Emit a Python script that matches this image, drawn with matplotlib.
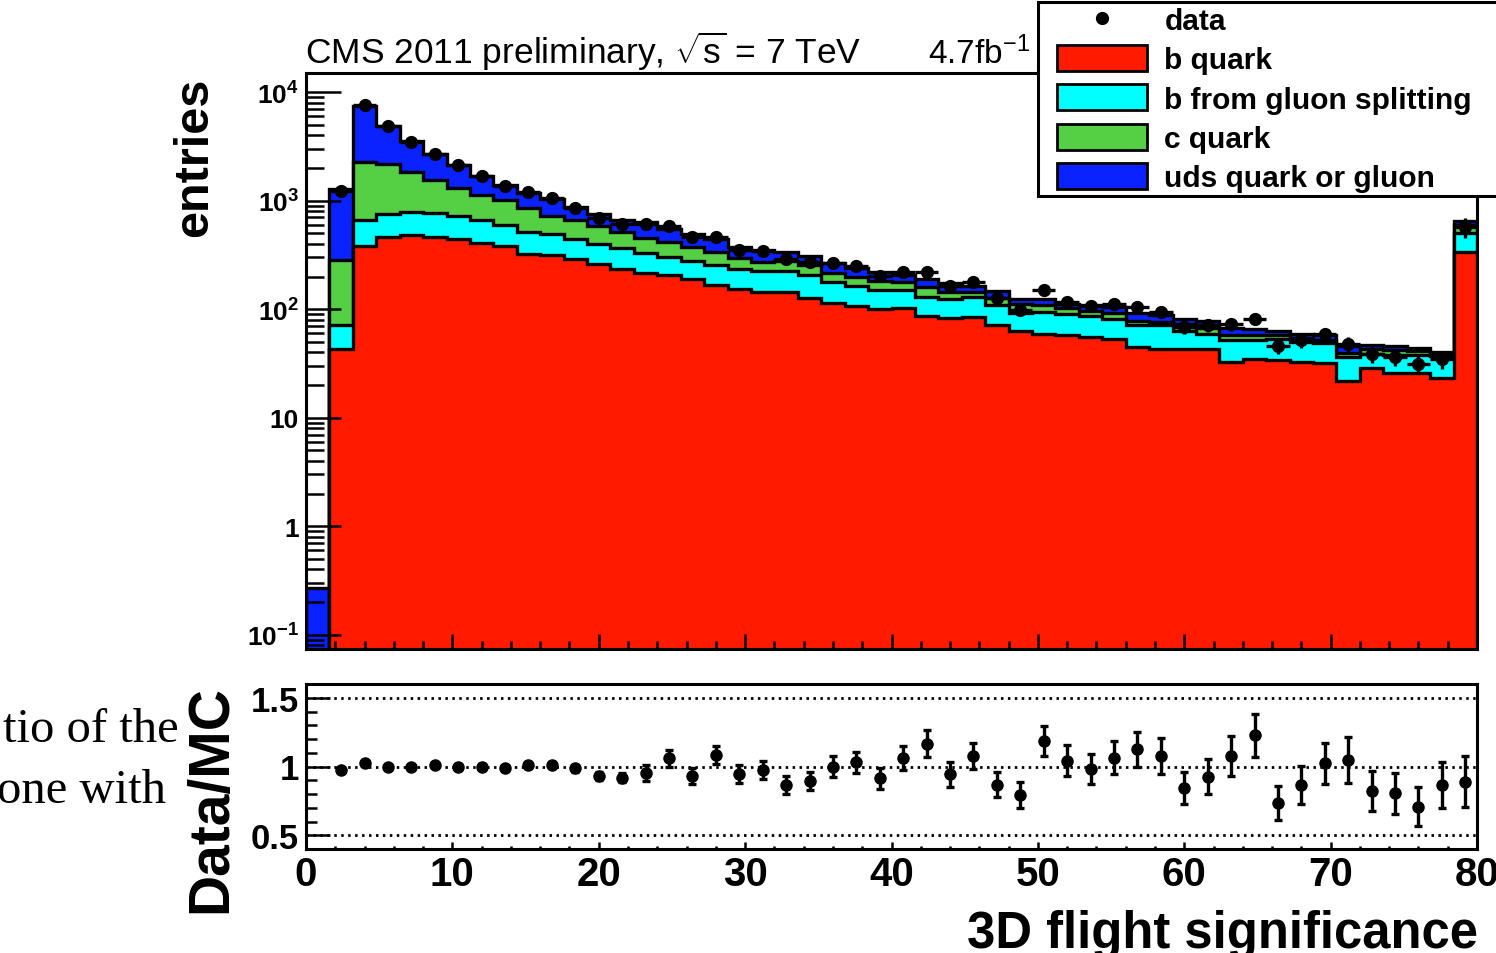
import numpy as np
import matplotlib.pyplot as plt
from matplotlib.ticker import FixedLocator, FixedFormatter, MultipleLocator, LogLocator, NullFormatter
from matplotlib.lines import Line2D
from matplotlib.patches import Patch, Rectangle

plt.rcParams['font.family'] = ['Liberation Sans', 'DejaVu Sans']
plt.rcParams['mathtext.fontset'] = 'custom'
plt.rcParams['mathtext.rm'] = 'Liberation Sans'
plt.rcParams['mathtext.bf'] = 'Liberation Sans:bold'
plt.rcParams['mathtext.it'] = 'Liberation Sans:italic'

# 50 bins of 1.6 between 0 and 80 (last bin holds the overflow)
edges = np.linspace(0, 80, 51)
centers = 0.5 * (edges[:-1] + edges[1:])

# MC components (entries per bin)
b_quark = [0, 43, 380, 462, 479, 462, 440, 410, 382, 325,
           318, 292, 259, 236, 215, 205, 191, 166, 155, 144,
           143, 127, 113, 106, 100, 102, 87, 83, 84, 71.5,
           63, 59.6, 57.5, 55.5, 53.6, 44.9, 43.4, 43.4, 43.4, 32.7,
           34.4, 33.8, 32.4, 31.6, 21.7, 29, 25.9, 25.9, 23, 336]
b_gluon = [0, 28, 279, 297, 306, 314, 281, 249, 211, 189,
           172, 151, 137, 133, 114, 98, 87, 88, 81, 79,
           83, 80, 66.5, 56.5, 51.5, 49.5, 41.8, 41.2, 44.8, 37.9,
           29.3, 34.6, 32.2, 30.5, 28.3, 26.2, 27.7, 19.6, 16.2, 19.8,
           18.1, 19.8, 17.5, 17.3, 14.6, 10, 11.7, 11.7, 13.8, 168]
c_quark = [0, 211, 1608, 1431, 1049, 784, 597, 461, 413, 341,
           226, 216, 184, 145, 124, 113, 96, 83, 63, 49,
           54, 48, 35.5, 34.5, 28.5, 25.5, 30.2, 20.8, 14.2, 16.6,
           20.4, 14.4, 12.2, 10.2, 9.7, 6.7, 5.8, 10.7, 7.1, 5,
           5, 3.9, 4.1, 3.6, 3.2, 4.4, 4.9, 3.3, 2.2, 88]
uds = [0.27, 988, 5163, 2670, 1681, 1110, 795, 566, 377, 330,
       326, 214, 168, 154, 187, 129, 121, 103, 75, 77,
       56, 52, 51, 44.5, 42, 28, 29, 29, 22, 21,
       12.6, 16.7, 10.8, 12.4, 13.2, 14.5, 11, 8.2, 10.7, 10.2,
       8.8, 5.5, 5.6, 5, 6, 3.8, 3, 3.4, 1.4, 57]

data = [np.nan, 1240, 7600, 4860, 3490, 2700, 2113, 1683, 1364, 1197,
        1055, 860, 697, 615, 610, 578, 462, 467, 353, 341,
        291, 275, 266, 249, 203, 218, 219, 164, 178, 127,
        99, 149, 117, 106.5, 111.6, 104, 94.7, 69, 71.6, 72.9,
        81.4, 46.2, 51.6, 58.8, 47.6, 38.9, 36.6, 31.4, 34.9, 577]

ratio = [np.nan, 0.976, 1.024, 1.0, 0.993, 1.01, 1.0, 0.998, 0.986, 1.01,
         1.012, 0.986, 0.932, 0.92, 0.952, 1.06, 0.932, 1.082, 0.944, 0.976,
         0.867, 0.896, 1.0, 1.03, 0.913, 1.065, 1.167, 0.944, 1.077, 0.867,
         0.792, 1.186, 1.041, 0.981, 1.065, 1.126, 1.077, 0.843, 0.925, 1.077,
         1.227, 0.734, 0.865, 1.022, 1.046, 0.824, 0.804, 0.708, 0.865, 0.889]
ratio_err = [np.nan, 0.012, 0.008, 0.01, 0.012, 0.014, 0.016, 0.018, 0.02, 0.022,
             0.024, 0.026, 0.03, 0.032, 0.058, 0.062, 0.06, 0.066, 0.064, 0.064,
             0.066, 0.066, 0.074, 0.078, 0.076, 0.087, 0.097, 0.09, 0.094, 0.09,
             0.092, 0.112, 0.113, 0.11, 0.117, 0.127, 0.129, 0.115, 0.127, 0.145,
             0.155, 0.124, 0.136, 0.152, 0.169, 0.145, 0.149, 0.141, 0.165, 0.187]

labels = ['data', 'b quark', 'b from gluon splitting', 'c quark', 'uds quark or gluon']
colors = ['#ff1a00', '#00ffff', '#55cf44', '#0a22ff']
ratio_lines = [0.5, 1.0, 1.5]

data = np.array(data)
ratio = np.array(ratio)
ratio_err = np.array(ratio_err)
stack = np.cumsum(np.array([b_quark, b_gluon, c_quark, uds]), axis=0)

W, H = 1496, 954
fig = plt.figure(figsize=(W / 100, H / 100), dpi=100)


def px_rect(x0, y0, x1, y1):
    return [x0 / W, 1 - y1 / H, (x1 - x0) / W, (y1 - y0) / H]


ax = fig.add_axes(px_rect(306, 74, 1477, 650))
rax = fig.add_axes(px_rect(306, 685, 1477, 850))

# stacked histogram, drawn from the top layer down
floor = 1e-3
for level in range(3, -1, -1):
    ax.stairs(np.maximum(stack[level], floor), edges, baseline=floor, fill=True,
              facecolor=colors[level], edgecolor='black', linewidth=2.4)

ax.errorbar(centers, data, yerr=data * ratio_err / ratio, xerr=0.8, fmt='o',
            color='black', ms=8.5, elinewidth=2.4, capsize=0, zorder=5)

ax.set_yscale('log')
ax.set_xlim(0, 80)
ax.set_ylim(0.074, 15000)
ax.yaxis.set_major_locator(FixedLocator([0.1, 1, 10, 100, 1000, 10000]))
ax.yaxis.set_major_formatter(FixedFormatter([r'$\mathbf{10^{-1}}$', '1', '10',
                                             r'$\mathbf{10^{2}}$', r'$\mathbf{10^{3}}$',
                                             r'$\mathbf{10^{4}}$']))
ax.yaxis.set_minor_locator(LogLocator(base=10, subs=np.arange(2, 10), numticks=20))
ax.yaxis.set_minor_formatter(NullFormatter())
ax.xaxis.set_major_locator(MultipleLocator(10))
ax.xaxis.set_minor_locator(MultipleLocator(2))
ax.tick_params(axis='y', which='major', direction='in', length=25, width=1.8,
               labelsize=19, pad=5)
ax.tick_params(axis='y', which='minor', direction='in', length=13, width=1.8)
ax.tick_params(axis='x', which='major', direction='in', length=11, width=1.8,
               labelbottom=False)
ax.tick_params(axis='x', which='minor', direction='in', length=6, width=1.8)
for lab in ax.get_yticklabels():
    lab.set_fontweight('bold')
for sp in ax.spines.values():
    sp.set_linewidth(2.2)

# ratio panel
for yv in ratio_lines:
    rax.axhline(yv, color='black', lw=2.0, ls=(0, (0.9, 1.6)), zorder=1)
rax.errorbar(centers, ratio, yerr=ratio_err, fmt='o', color='black', ms=8,
             elinewidth=2.4, capsize=3, capthick=2.4, zorder=5)
rax.set_xlim(0, 80)
rax.set_ylim(0.4, 1.6)
rax.yaxis.set_major_locator(FixedLocator(ratio_lines))
rax.yaxis.set_major_formatter(FixedFormatter(['0.5', '1', '1.5']))
rax.yaxis.set_minor_locator(MultipleLocator(0.1))
rax.xaxis.set_major_locator(MultipleLocator(10))
rax.xaxis.set_minor_locator(MultipleLocator(2))
rax.tick_params(axis='y', which='major', direction='in', length=17, width=1.8,
                labelsize=25, pad=5)
rax.tick_params(axis='y', which='minor', direction='in', length=8, width=1.8)
rax.tick_params(axis='x', which='major', direction='in', length=5, width=1.8,
                labelsize=29, pad=4)
rax.tick_params(axis='x', which='minor', direction='in', length=2.5, width=1.8)
for lab in rax.get_yticklabels() + rax.get_xticklabels():
    lab.set_fontweight('bold')
for sp in rax.spines.values():
    sp.set_linewidth(2.2)

# texts
fig.text(305 / W, 1 - 64 / H, r'CMS 2011 preliminary, $\sqrt{\mathrm{s}}$ = 7 TeV',
         fontsize=25.5, va='baseline', ha='left')
fig.text(928 / W, 1 - 64 / H, r'4.7fb$^{-1}$', fontsize=24, va='baseline', ha='left')
fig.text(195 / W, 1 - 78 / H, 'entries', rotation=90, ha='center', va='top',
         fontsize=35, fontweight='bold')
fig.text(211 / W, 1 - 685 / H, 'Data/MC', rotation=90, ha='center', va='top',
         fontsize=41, fontweight='bold')
fig.text(1478 / W, 1 - 948 / H, '3D flight significance', ha='right', va='baseline',
         fontsize=36.5, fontweight='bold')
fig.text(179 / W, 1 - 742 / H, 'tio of the', family='Liberation Serif', fontsize=35,
         ha='right', va='baseline')
fig.text(166 / W, 1 - 803 / H, 'one with', family='Liberation Serif', fontsize=35,
         ha='right', va='baseline')

# legend box sits over the top right corner of the frame
box = Rectangle((1038 / W, 1 - 197 / H), 500 / W, 194 / H, transform=fig.transFigure,
                facecolor='white', edgecolor='black', linewidth=2.2, zorder=10)
fig.add_artist(box)
handles = [Line2D([], [], marker='o', color='black', ls='none', ms=8.5)]
handles += [Patch(facecolor=c, edgecolor='black', linewidth=2) for c in colors]
leg = fig.legend(handles, labels, loc='upper left', bbox_to_anchor=(1057 / W, 1 - 7 / H),
                 frameon=False, prop={'size': 21.5, 'weight': 'bold'}, handlelength=3.0,
                 handleheight=0.97, labelspacing=0.33, borderpad=0, borderaxespad=0,
                 handletextpad=0.6)
leg.set_zorder(11)

fig.savefig('out.png', dpi=100)
